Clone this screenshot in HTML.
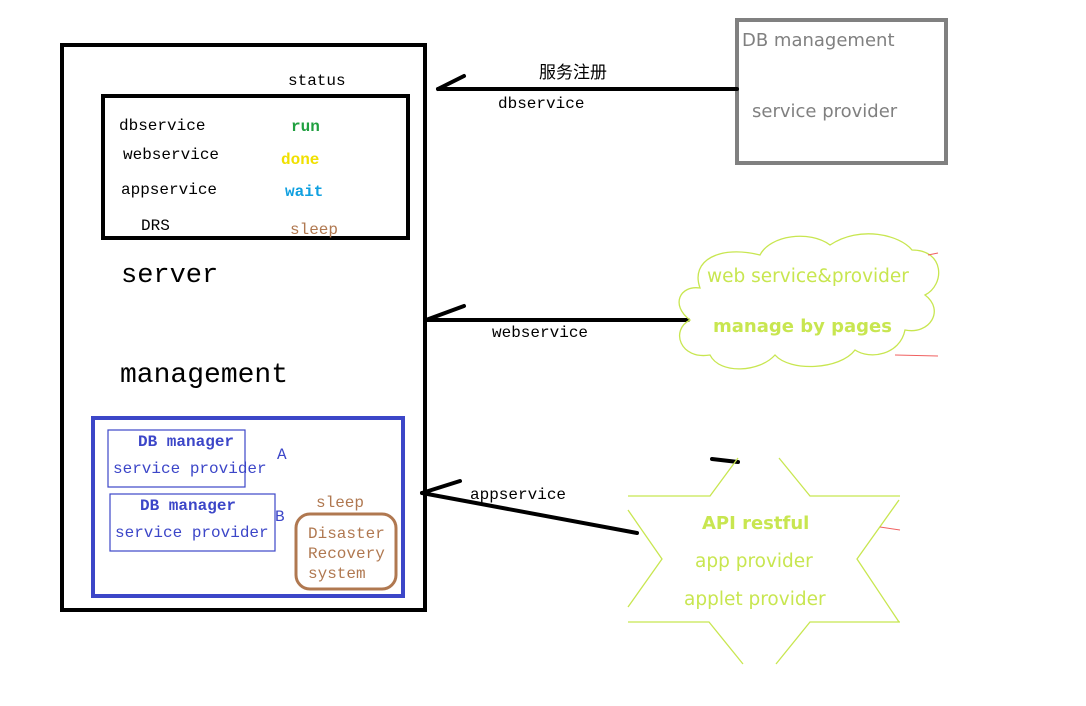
<!DOCTYPE html>
<html><head><meta charset="utf-8"><style>
body{margin:0;width:1086px;height:706px;background:#fff;position:relative;overflow:hidden;font-family:"Liberation Mono","Noto Sans CJK SC",monospace;}
.t{position:absolute;white-space:nowrap;line-height:1;}
.s{font-family:"DejaVu Sans","Liberation Sans",sans-serif;}
</style></head><body>
<svg width="1086" height="706" style="position:absolute;left:0;top:0">
<rect x="62" y="45" width="363" height="565" fill="none" stroke="#000" stroke-width="4"/>
<rect x="103" y="96" width="305" height="142" fill="none" stroke="#000" stroke-width="4"/>
<rect x="93" y="418" width="310" height="178" fill="none" stroke="#3c46c8" stroke-width="4"/>
<rect x="108" y="430" width="137" height="57" fill="none" stroke="#3c46c8" stroke-width="1.2"/>
<rect x="110" y="494" width="165" height="57" fill="none" stroke="#3c46c8" stroke-width="1.2"/>
<rect x="296" y="514" width="100" height="75" rx="14" fill="none" stroke="#b07850" stroke-width="3"/>
<rect x="737" y="20" width="209" height="143" fill="none" stroke="#808080" stroke-width="4"/>
<g stroke="#000" stroke-width="4" fill="none" stroke-linecap="round">
<line x1="438" y1="89" x2="737" y2="89"/><line x1="438" y1="89" x2="464" y2="76"/>
<line x1="426" y1="320" x2="688" y2="320"/><line x1="426" y1="320" x2="464" y2="306"/>
<line x1="422" y1="493" x2="637" y2="533"/><line x1="422" y1="493" x2="460" y2="481"/>
<line x1="712" y1="459" x2="738" y2="462"/>
</g>
<g stroke="#c8e650" stroke-width="1.3" fill="none">
<polyline points="628,496 710,496 738,458"/><polyline points="779,458 810,496 900,496"/>
<polyline points="628,510 662,559 628,607"/><polyline points="899,500 857,559 899,622"/>
<polyline points="628,622 709,622 743,664"/><polyline points="900,622 810,622 776,664"/>
<path d="M700,288 C690,260 720,245 760,255 C770,235 810,230 830,245 C860,225 900,235 912,250 C945,250 945,285 925,295 C945,310 930,335 905,330 C900,355 870,360 855,350 C840,370 790,372 775,355 C760,372 720,375 710,355 C680,360 670,330 690,320 C670,305 680,285 700,288 Z"/>
</g>
<g stroke="#f06060" stroke-width="1" fill="none">
<line x1="928" y1="255" x2="938" y2="253"/><line x1="895" y1="355" x2="938" y2="356"/><line x1="880" y1="527" x2="900" y2="530"/>
</g>
</svg>
<div class="t" style="left:288px;top:73px;font-size:16px">status</div>
<div class="t" style="left:119px;top:118px;font-size:16px">dbservice</div>
<div class="t" style="left:123px;top:147px;font-size:16px">webservice</div>
<div class="t" style="left:121px;top:182px;font-size:16px">appservice</div>
<div class="t" style="left:141px;top:218px;font-size:16px">DRS</div>
<div class="t" style="left:291px;top:119px;font-size:16px;color:#20a040;font-weight:bold">run</div>
<div class="t" style="left:281px;top:152px;font-size:16px;color:#f0e000;font-weight:bold">done</div>
<div class="t" style="left:285px;top:184px;font-size:16px;color:#10a0e0;font-weight:bold">wait</div>
<div class="t" style="left:290px;top:222px;font-size:16px;color:#b07850">sleep</div>
<div class="t" style="left:121px;top:263px;font-size:27px">server</div>
<div class="t" style="left:120px;top:362px;font-size:28px">management</div>
<div class="t" style="left:138px;top:434px;font-size:16px;color:#3c46c8;font-weight:bold">DB manager</div>
<div class="t" style="left:113px;top:461px;font-size:16px;color:#3c46c8">service provider</div>
<div class="t" style="left:277px;top:447px;font-size:16px;color:#3c46c8">A</div>
<div class="t" style="left:140px;top:498px;font-size:16px;color:#3c46c8;font-weight:bold">DB manager</div>
<div class="t" style="left:115px;top:525px;font-size:16px;color:#3c46c8">service provider</div>
<div class="t" style="left:275px;top:509px;font-size:16px;color:#3c46c8">B</div>
<div class="t" style="left:316px;top:495px;font-size:16px;color:#b07850">sleep</div>
<div class="t" style="left:308px;top:526px;font-size:16px;color:#b07850">Disaster</div>
<div class="t" style="left:308px;top:546px;font-size:16px;color:#b07850">Recovery</div>
<div class="t" style="left:308px;top:566px;font-size:16px;color:#b07850">system</div>
<div class="t s" style="left:539px;top:65px;font-size:17px">服务注册</div>
<div class="t" style="left:498px;top:96px;font-size:16px">dbservice</div>
<div class="t" style="left:492px;top:325px;font-size:16px">webservice</div>
<div class="t" style="left:470px;top:487px;font-size:16px">appservice</div>
<div class="t s" style="left:742px;top:32px;font-size:18px;color:#808080">DB management</div>
<div class="t s" style="left:752px;top:103px;font-size:18px;color:#808080">service provider</div>
<div class="t s" style="left:707px;top:268px;font-size:18.5px;color:#c8e650">web service&amp;provider</div>
<div class="t s" style="left:713px;top:318px;font-size:18px;color:#c8e650;font-weight:bold">manage by pages</div>
<div class="t s" style="left:702px;top:515px;font-size:18px;color:#c8e650;font-weight:bold">API restful</div>
<div class="t s" style="left:695px;top:553px;font-size:18.5px;color:#c8e650">app provider</div>
<div class="t s" style="left:684px;top:591px;font-size:18.5px;color:#c8e650">applet provider</div>
</body></html>
